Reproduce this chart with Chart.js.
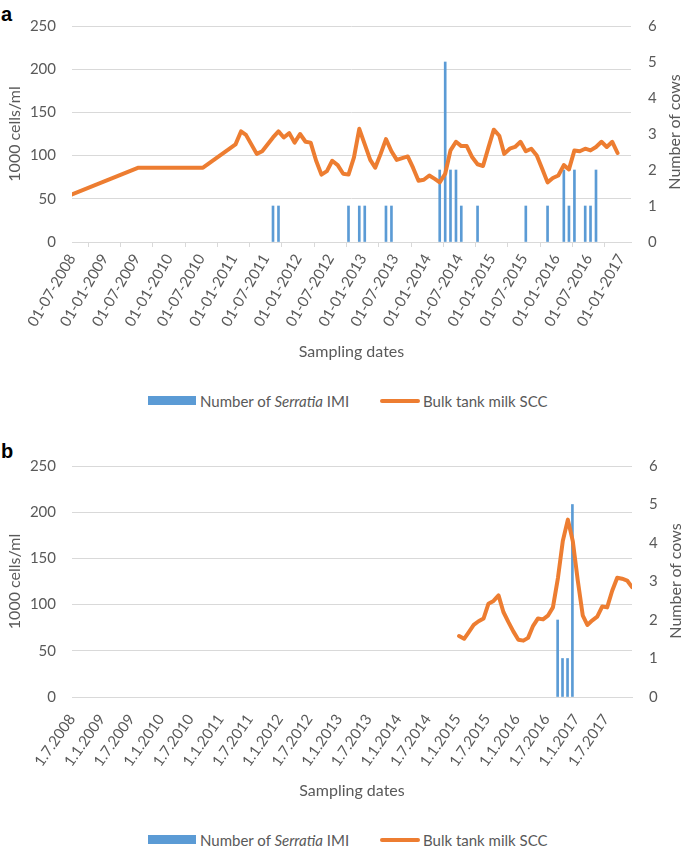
<!DOCTYPE html>
<html>
<head>
<meta charset="utf-8">
<script src="https://cdn.jsdelivr.net/npm/chart.js@4.4.1/dist/chart.umd.min.js"></script>
<style>
  body { margin: 0; background: #fff; font-family: Lato, "Open Sans", sans-serif; }
  #wrap { position: relative; width: 685px; height: 850px; overflow: hidden; }
  canvas { position: absolute; left: 0; }
  .tag { position: absolute; left: 1px; font: bold 20px "Liberation Sans", Arial, sans-serif; color: #000; }
  .rtitle { position: absolute; width: 160px; height: 20px; line-height: 20px; text-align: center;
            font-size: 16px; color: #595959; white-space: nowrap; transform: rotate(-90deg); }
  .legend { position: absolute; left: 0; width: 685px; height: 20px; font-size: 15px; color: #595959; white-space: nowrap; }
  .legend span { position: absolute; top: 0; line-height: 20px; }
  .sw-bar { position: absolute; top: 5px; width: 48px; height: 9px; background: #5B9BD5; }
  .sw-line { position: absolute; top: 8px; width: 40px; height: 4px; background: #ED7D31; border-radius: 2px; }
</style>
</head>
<body>
<div id="wrap">
  <div class="tag" style="top:3px">a</div>
  <canvas id="chartA" width="685" height="380" style="top:0"></canvas>
  <div class="rtitle" style="left:594px; top:122px">Number of cows</div>
  <div class="legend" style="top:391px">
    <div class="sw-bar" style="left:148px"></div><span style="left:200px">Number of <i>Serratia</i> IMI</span>
    <div class="sw-line" style="left:380px"></div><span style="left:423px">Bulk tank milk SCC</span>
  </div>

  <div class="tag" style="top:440px">b</div>
  <canvas id="chartB" width="685" height="370" style="top:440px"></canvas>
  <div class="rtitle" style="left:595px; top:571px">Number of cows</div>
  <div class="legend" style="top:830px">
    <div class="sw-bar" style="left:148px"></div><span style="left:200px">Number of <i>Serratia</i> IMI</span>
    <div class="sw-line" style="left:380px"></div><span style="left:423px">Bulk tank milk SCC</span>
  </div>
</div>

<script>
// ---- panel a : bulk tank SCC (1000 cells/ml) ----
const sccDatesA = ['2008-07-01', '2009-07-12', '2010-07-12',
  '2011-01-12', '2011-02-12', '2011-03-12', '2011-05-12', '2011-06-12', '2011-08-12', '2011-09-12', '2011-10-12', '2011-11-12', '2011-12-12',
  '2012-01-12', '2012-02-12', '2012-03-12', '2012-04-12', '2012-05-12', '2012-06-12', '2012-07-12', '2012-08-12', '2012-09-12', '2012-10-12', '2012-11-12', '2012-12-12',
  '2013-01-12', '2013-02-12', '2013-03-12', '2013-04-12', '2013-05-12', '2013-06-12', '2013-07-12', '2013-08-12', '2013-09-12', '2013-10-12', '2013-11-12', '2013-12-12',
  '2014-01-12', '2014-02-12', '2014-03-12', '2014-04-12', '2014-05-12', '2014-06-12', '2014-07-12', '2014-08-12', '2014-09-12', '2014-10-12', '2014-11-12', '2014-12-12',
  '2015-01-12', '2015-02-12', '2015-03-12', '2015-04-12', '2015-05-12', '2015-06-12', '2015-07-12', '2015-08-12', '2015-09-12', '2015-10-12', '2015-11-12', '2015-12-12',
  '2016-01-12', '2016-02-12', '2016-03-12', '2016-04-12', '2016-05-12', '2016-06-12', '2016-07-12', '2016-08-12', '2016-09-12', '2016-10-12', '2016-11-12', '2016-12-12'];
const sccA = [55, 86, 86,
  113, 128, 124, 102, 105, 121, 128, 121, 126, 115,
  125, 116, 115, 94, 78, 82, 94, 89, 79, 78, 98, 131,
  113, 95, 86, 102, 119, 105, 95, 97, 99, 86, 71, 72,
  77, 73, 69, 79, 106, 116, 111, 111, 98, 90, 88, 109,
  130, 123, 102, 108, 110, 116, 105, 108, 100, 85, 69, 74,
  77, 89, 84, 106, 105, 108, 106, 110, 116, 110, 116, 103];

// number of Serratia IMI (cows)
const imiDatesA = ['2011-08-12', '2011-09-12', '2012-10-12', '2012-12-12', '2013-01-12', '2013-05-12', '2013-06-12',
  '2014-03-12', '2014-04-12', '2014-05-12', '2014-06-12', '2014-07-12', '2014-10-12',
  '2015-07-12', '2015-11-12', '2016-02-12', '2016-03-12', '2016-04-12', '2016-06-12', '2016-07-12', '2016-08-12'];
const imiA = [1, 1, 1, 1, 1, 1, 1, 2, 5, 2, 2, 1, 1, 1, 1, 2, 1, 2, 1, 1, 2];

// ---- panel b ----
const sccDatesB = ['2015-01-10', '2015-02-10', '2015-03-10', '2015-04-10', '2015-05-10', '2015-06-10', '2015-07-10', '2015-08-10', '2015-09-10', '2015-10-10', '2015-11-10', '2015-12-10',
  '2016-01-10', '2016-02-10', '2016-03-10', '2016-04-10', '2016-05-10', '2016-06-10', '2016-07-10', '2016-08-10', '2016-09-10', '2016-10-10', '2016-11-10', '2016-12-10',
  '2017-01-10', '2017-02-10', '2017-03-10', '2017-04-10', '2017-05-10', '2017-06-10', '2017-07-10', '2017-08-10', '2017-09-10', '2017-10-10', '2017-11-10', '2017-12-10'];
const sccB = [66, 63, 70, 78, 82, 85, 101, 104, 110, 92, 81, 71,
  62, 61, 64, 77, 85, 84, 88, 97, 129, 169, 192, 169,
  126, 88, 78, 83, 87, 98, 97, 115, 129, 128, 126, 119];
const imiDatesB = ['2016-09-08', '2016-10-08', '2016-11-08', '2016-12-08'];
const imiB = [2, 1, 1, 5];

// axis ticks (every 6 months)
const tickDatesA = ['2008-07-01', '2009-01-01', '2009-07-01', '2010-01-01', '2010-07-01', '2011-01-01', '2011-07-01', '2012-01-01', '2012-07-01',
  '2013-01-01', '2013-07-01', '2014-01-01', '2014-07-01', '2015-01-01', '2015-07-01', '2016-01-01', '2016-07-01', '2017-01-01'];
const tickLabelsA = ['01-07-2008', '01-01-2009', '01-07-2009', '01-01-2010', '01-07-2010', '01-01-2011', '01-07-2011', '01-01-2012', '01-07-2012',
  '01-01-2013', '01-07-2013', '01-01-2014', '01-07-2014', '01-01-2015', '01-07-2015', '01-01-2016', '01-07-2016', '01-01-2017'];
const tickDatesB = tickDatesA.concat(['2017-07-01']);
const tickLabelsB = ['1.7.2008', '1.1.2009', '1.7.2009', '1.1.2010', '1.7.2010', '1.1.2011', '1.7.2011', '1.1.2012', '1.7.2012',
  '1.1.2013', '1.7.2013', '1.1.2014', '1.7.2014', '1.1.2015', '1.7.2015', '1.1.2016', '1.7.2016', '1.1.2017', '1.7.2017'];
const xMaxA = '2017-02-26';
const xMaxB = '2017-12-10';

const base = Date.UTC(2008, 6, 1);
function day(s) {
  const p = s.split('-');
  return (Date.UTC(+p[0], +p[1] - 1, +p[2]) - base) / 864e5;
}
function pts(dates, vals) {
  return dates.map((d, i) => ({ x: day(d), y: vals[i] }));
}

const grey = '#595959';
const gridCol = '#d9d9d9';
const font = { family: 'Lato', size: 15 };

function makeChart(id, p) {
  const ctx = document.getElementById(id).getContext('2d');
  return new Chart(ctx, {
    type: 'line',
    data: {
      datasets: [{
        type: 'line',
        label: 'Bulk tank milk SCC',
        data: pts(p.sccDates, p.scc),
        yAxisID: 'y',
        borderColor: '#ED7D31',
        borderWidth: 4,
        borderJoinStyle: 'round',
        borderCapStyle: 'round',
        pointRadius: 0,
        tension: 0
      }, {
        type: 'bar',
        label: 'Number of Serratia IMI',
        data: pts(p.imiDates, p.imi),
        yAxisID: 'y2',
        backgroundColor: '#5B9BD5',
        borderWidth: 0,
        barThickness: 2
      }]
    },
    options: {
      responsive: false,
      animation: false,
      layout: { padding: { top: p.padTop, left: 0, right: 0, bottom: 0 } },
      plugins: { legend: { display: false }, tooltip: { enabled: false } },
      scales: {
        x: {
          type: 'linear',
          min: 0,
          max: day(p.xMax),
          offset: false,
          afterBuildTicks: (scale) => { scale.ticks = p.tickDates.map(d => ({ value: day(d) })); },
          afterFit: (scale) => { scale.height = p.xHeight; },
          ticks: {
            autoSkip: false,
            minRotation: p.rot,
            maxRotation: p.rot,
            padding: p.tickPad,
            color: grey,
            font: font,
            callback: (v, i) => p.tickLabels[i]
          },
          grid: { drawOnChartArea: false, drawTicks: true, tickLength: 5, tickColor: p.tickColor, color: gridCol },
          border: { color: gridCol },
          title: { display: true, text: 'Sampling dates', color: grey, font: { family: 'Lato', size: 16 }, padding: { top: 0, bottom: p.xTitlePad } }
        },
        y: {
          position: 'left',
          min: 0,
          max: 250,
          afterFit: (scale) => { scale.width = p.left; },
          ticks: { stepSize: 50, padding: 16, color: grey, font: font },
          grid: { color: gridCol, drawTicks: false },
          border: { display: false },
          title: { display: true, text: '1000 cells/ml', color: grey, font: { family: 'Lato', size: 16 }, padding: { top: 5, bottom: 0 } }
        },
        y2: {
          position: 'right',
          min: 0,
          max: 6,
          afterFit: (scale) => { scale.width = p.right; },
          ticks: { stepSize: 1, padding: 17, color: grey, font: font },
          grid: { drawOnChartArea: false, drawTicks: false },
          border: { display: false }
        }
      }
    }
  });
}

makeChart('chartA', {
  sccDates: sccDatesA, scc: sccA, imiDates: imiDatesA, imi: imiA,
  tickDates: tickDatesA, tickLabels: tickLabelsA, xMax: xMaxA,
  padTop: 24, xHeight: 138, left: 72, right: 54, rot: 60, tickPad: 4, xTitlePad: 19, tickColor: gridCol
});
makeChart('chartB', {
  sccDates: sccDatesB, scc: sccB, imiDates: imiDatesB, imi: imiB,
  tickDates: tickDatesB, tickLabels: tickLabelsB, xMax: xMaxB,
  padTop: 24, xHeight: 113, left: 72, right: 53, rot: 55, tickPad: 9, xTitlePad: 10, tickColor: 'rgba(0,0,0,0)'
});
</script>
</body>
</html>
